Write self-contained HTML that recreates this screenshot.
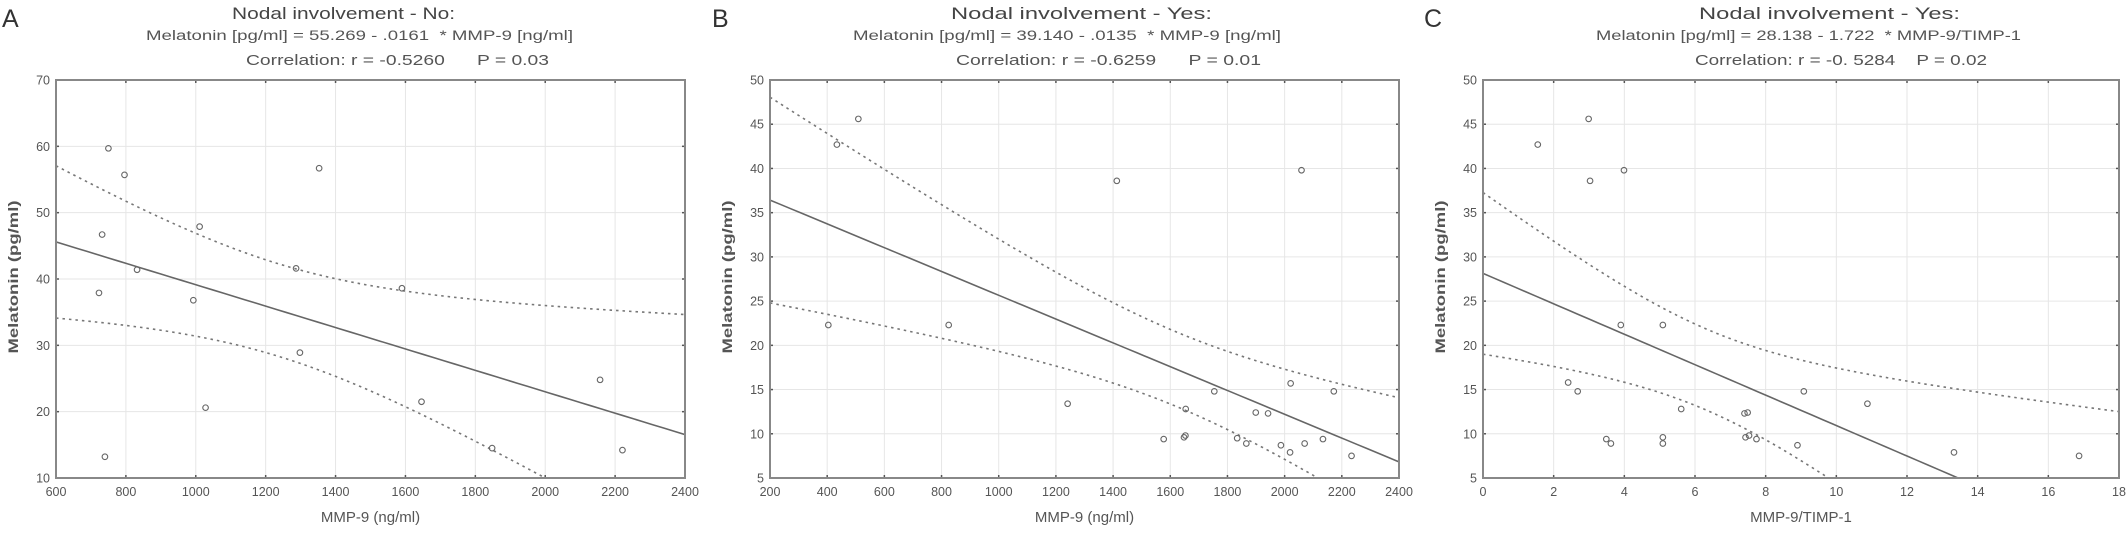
<!DOCTYPE html>
<html><head><meta charset="utf-8">
<style>
html,body{margin:0;padding:0;background:#fff;width:2127px;height:535px;overflow:hidden;}
svg{display:block;font-family:"Liberation Sans",sans-serif;}
text{white-space:pre;}
</style></head>
<body>
<svg id="fig" width="2127" height="535" viewBox="0 0 2127 535" xmlns="http://www.w3.org/2000/svg"></svg>
<script>
// ---- Panel A data ----
const aX = [750,796,1353,732,1011,832,1287,1590,723,993,1298,2157,1028,1646,1848,2221,740];
const aY = [59.7,55.7,56.7,46.7,47.9,41.4,41.6,38.6,37.9,36.8,28.9,24.8,20.6,21.5,14.5,14.2,13.2];
const aXTicks = [600,800,1000,1200,1400,1600,1800,2000,2200,2400];
const aYTicks = [10,20,30,40,50,60,70];
const aTitle = ["Nodal involvement - No:", "Melatonin [pg/ml] = 55.269 - .0161  * MMP-9 [ng/ml]", "Correlation: r = -0.5260      P = 0.03"];
// ---- Panel B data ----
const bX = [509,434,1413,2059,404,825,1241,1754,2021,2172,1654,1899,1942,1577,1648,1653,1834,1866,1987,2070,2019,2134,2234];
const bY = [45.6,42.7,38.6,39.8,22.3,22.3,13.4,14.8,15.7,14.8,12.8,12.4,12.3,9.4,9.6,9.8,9.5,8.9,8.7,8.9,7.9,9.4,7.5];
const bXTicks = [200,400,600,800,1000,1200,1400,1600,1800,2000,2200,2400];
const bYTicks = [5,10,15,20,25,30,35,40,45,50];
const bTitle = ["Nodal involvement - Yes:", "Melatonin [pg/ml] = 39.140 - .0135  * MMP-9 [ng/ml]", "Correlation: r = -0.6259      P = 0.01"];
// ---- Panel C data ----
const cX = [1.55,2.99,3.03,3.99,3.90,5.09,2.41,2.68,9.08,10.88,5.61,7.40,7.49,3.49,3.62,5.09,5.09,7.43,7.53,7.74,8.90,13.33,16.87];
const cY = [42.7,45.6,38.6,39.8,22.3,22.3,15.8,14.8,14.8,13.4,12.8,12.3,12.4,9.4,8.9,9.6,8.9,9.6,9.8,9.4,8.7,7.9,7.5];
const cXTicks = [0,2,4,6,8,10,12,14,16,18];
const cYTicks = [5,10,15,20,25,30,35,40,45,50];
const cTitle = ["Nodal involvement - Yes:", "Melatonin [pg/ml] = 28.138 - 1.722  * MMP-9/TIMP-1", "Correlation: r = -0. 5284    P = 0.02"];

const NS = "http://www.w3.org/2000/svg";
const svg = document.getElementById("fig");
function mk(tag, attrs, parent){
  const e = document.createElementNS(NS, tag);
  for (const k in attrs) e.setAttribute(k, attrs[k]);
  (parent||svg).appendChild(e);
  return e;
}
function txt(s, attrs, parent){ const e = mk("text", attrs, parent); e.textContent = s; return e; }

function panel(id, letter, xs, ys, xt, yt, titles, box, titlePos, xTitle, tval){
  const g = mk("g", {});
  
  
  const [L,T,R,B] = box;
  const x0 = xt[0], x1 = xt[xt.length-1], y0 = yt[0], y1 = yt[yt.length-1];
  const sx = v => L + (v - x0) / (x1 - x0) * (R - L);
  const sy = v => B - (v - y0) / (y1 - y0) * (B - T);
  const C = "#555";
  const lt = txt(letter, {x: letter==="C"?1424:(letter==="B"?712:2), y: 27, "font-size": 25, fill: "#333"}, g);
  
  
  const t1 = txt(titles[0], {x: titlePos[0][0], y: 19, "font-size": 16.5, fill: "#444", textLength: titlePos[0][1]-titlePos[0][0], lengthAdjust: "spacingAndGlyphs"}, g);
  
  
  const t2 = txt(titles[1], {x: titlePos[1][0], y: 40, "font-size": 13.5, fill: "#555", textLength: titlePos[1][1]-titlePos[1][0], lengthAdjust: "spacingAndGlyphs"}, g);
  
  
  const t3 = txt(titles[2], {x: titlePos[2][0], y: 65, "font-size": 15, fill: "#555", textLength: titlePos[2][1]-titlePos[2][0], lengthAdjust: "spacingAndGlyphs"}, g);
  
  
  xt.forEach(v => {
    const X = sx(v);
    const gl = mk("line", {x1:X, y1:T, x2:X, y2:B, stroke:"#e6e6e6", "stroke-width":1}, g);
    
    
    mk("line", {x1:X, y1:B, x2:X, y2:B-3, stroke:C, "stroke-width":1.5}, g);
    mk("line", {x1:X, y1:T, x2:X, y2:T+3, stroke:C, "stroke-width":1.5}, g);
    const tl = txt(String(v), {x:X, y:B+18, "font-size":12.5, fill:"#555", "text-anchor":"middle"}, g);
    
    
  });
  yt.forEach(v => {
    const Y = sy(v);
    const gl = mk("line", {x1:L, y1:Y, x2:R, y2:Y, stroke:"#e6e6e6", "stroke-width":1}, g);
    
    
    mk("line", {x1:L, y1:Y, x2:L+3, y2:Y, stroke:C, "stroke-width":1.5}, g);
    mk("line", {x1:R, y1:Y, x2:R-3, y2:Y, stroke:C, "stroke-width":1.5}, g);
    const tl = txt(String(v), {x:L-6, y:Y+4.5, "font-size":12.5, fill:"#555", "text-anchor":"end"}, g);
    
    
  });
  const n = xs.length;
  const mx = xs.reduce((a,b)=>a+b,0)/n, my = ys.reduce((a,b)=>a+b,0)/n;
  let sxx=0, sxy=0;
  for (let i=0;i<n;i++){ sxx += (xs[i]-mx)**2; sxy += (xs[i]-mx)*(ys[i]-my); }
  const b1 = sxy/sxx, b0 = my - b1*mx;
  let sse=0; for (let i=0;i<n;i++) sse += (ys[i]-b0-b1*xs[i])**2;
  const s = Math.sqrt(sse/(n-2));
  const clipId = "clip-" + id;
  const cp = mk("clipPath", {id: clipId}, g);
  mk("rect", {x:L, y:T, width:R-L, height:B-T}, cp);
  const fitPts=[], upPts=[], loPts=[];
  for (let k=0;k<=60;k++){
    const v = x0 + (x1-x0)*k/60;
    const yh = b0 + b1*v;
    const se = s*Math.sqrt(1/n + (v-mx)**2/sxx);
    fitPts.push(sx(v)+","+sy(yh));
    upPts.push(sx(v)+","+sy(yh + tval*se));
    loPts.push(sx(v)+","+sy(yh - tval*se));
  }
  const cg = mk("g", {"clip-path":"url(#"+clipId+")"}, g);
  const up = mk("polyline", {points: upPts.join(" "), fill:"none", stroke:"#777", "stroke-width":1.6, "stroke-dasharray":"2.5,4"}, cg);
  
  
  const lo = mk("polyline", {points: loPts.join(" "), fill:"none", stroke:"#777", "stroke-width":1.6, "stroke-dasharray":"2.5,4"}, cg);
  
  
  const fl = mk("polyline", {points: fitPts.join(" "), fill:"none", stroke:"#666", "stroke-width":1.6}, cg);
  
  
  for (let i=0;i<n;i++){
    const c = mk("circle", {cx:sx(xs[i]), cy:sy(ys[i]), r:2.8, fill:"none", stroke:"#666", "stroke-width":1.1}, g);
    
    
  }
  const fr = mk("rect", {x:L, y:T, width:R-L, height:B-T, fill:"none", stroke:"#888", "stroke-width":2}, g);
  
  
  const xa = txt(xTitle, {x:(L+R)/2, y:522, "font-size":15, fill:"#555", "text-anchor":"middle"}, g);
  
  
  const ya = txt("Melatonin (pg/ml)", {x:0, y:0, "font-size":14, "font-weight":"bold", fill:"#555", "text-anchor":"middle", transform:"translate("+(L-38)+",277) rotate(-90)", textLength:153, lengthAdjust:"spacingAndGlyphs"}, g);
  
  
}

panel("a","A",aX,aY,aXTicks,aYTicks,aTitle,[56,80,685,478],[[232,455],[146,573],[246,549]],"MMP-9 (ng/ml)",2.13);
panel("b","B",bX,bY,bXTicks,bYTicks,bTitle,[770,80,1399,478],[[951,1212],[853,1281],[956,1261]],"MMP-9 (ng/ml)",2.08);
panel("c","C",cX,cY,cXTicks,cYTicks,cTitle,[1483,80,2119,478],[[1699,1960],[1596,2021],[1695,1987]],"MMP-9/TIMP-1",2.08);
</script>
</body></html>
